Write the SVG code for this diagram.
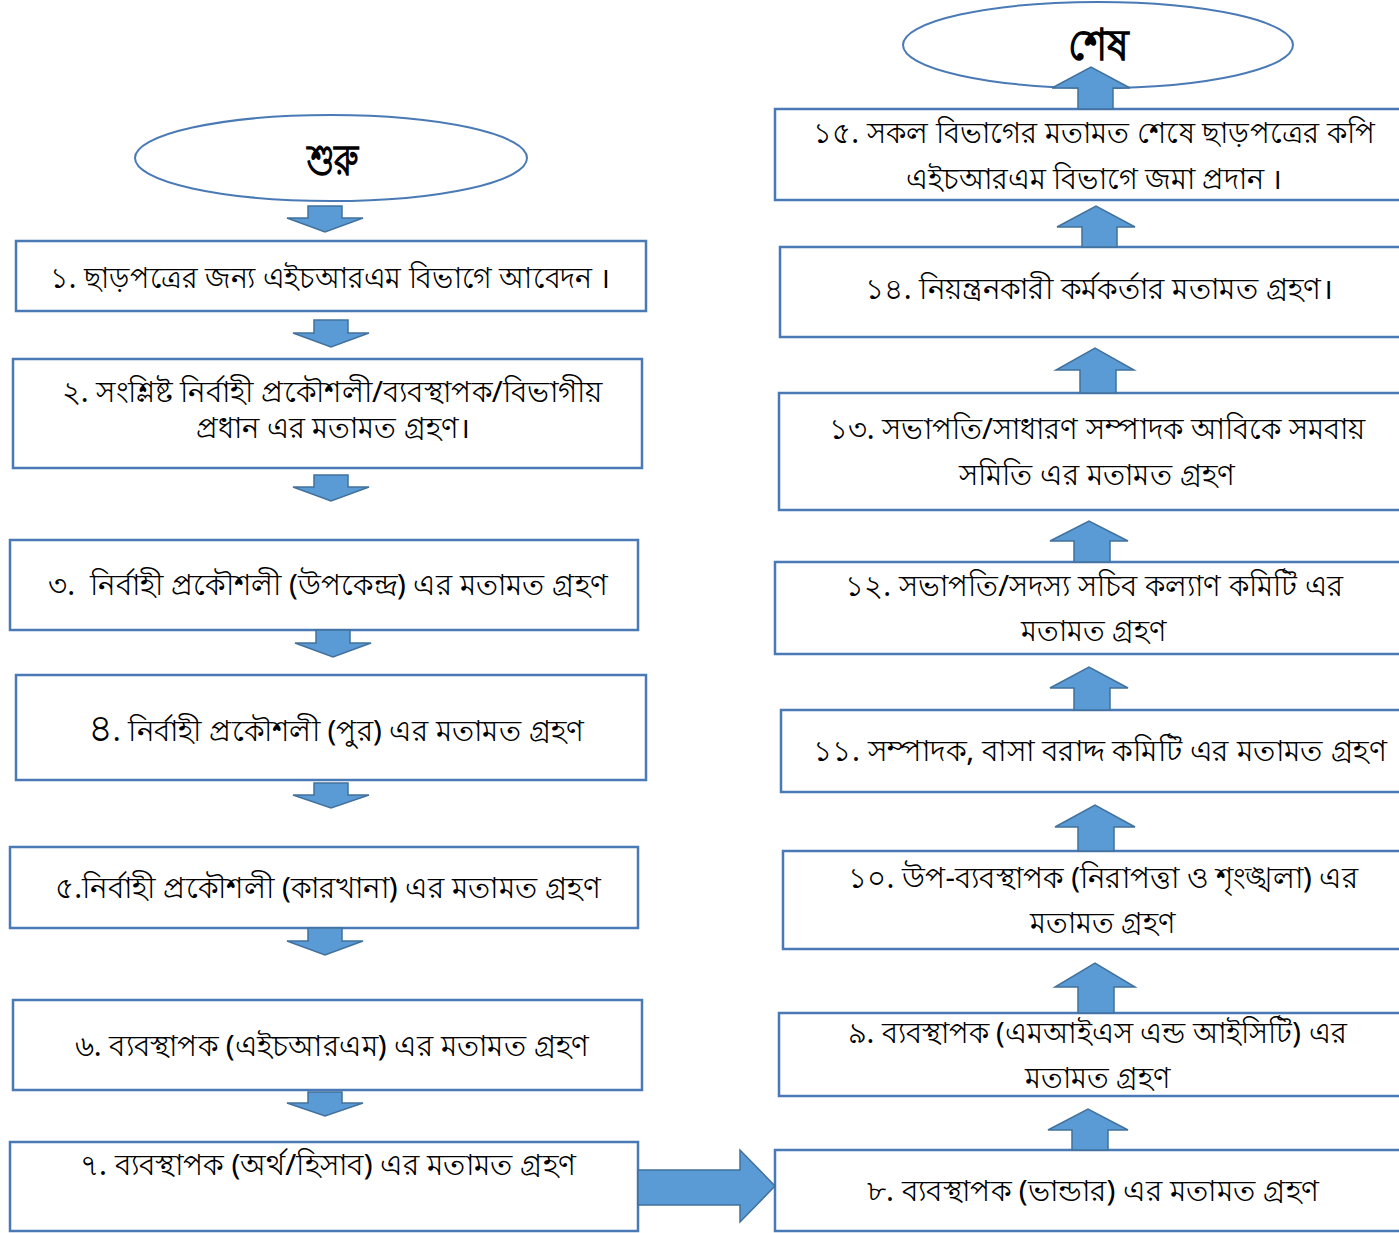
<svg xmlns="http://www.w3.org/2000/svg" width="1399" height="1233" viewBox="0 0 1399 1233">
<style>
.box{fill:#fff;stroke:#4a7ab5;stroke-width:2.5}
.ell{fill:#fff;stroke:#4a7ab5;stroke-width:2}
.arr{fill:#5b9bd5;stroke:#41719c;stroke-width:1.5}
text{font-family:"Noto Sans","DejaVu Sans",sans-serif;font-size:29px;fill:#000;text-anchor:middle}
.big{font-size:44px;font-weight:600}
</style>
<rect width="1399" height="1233" fill="#fff"/>
<g id="start"><ellipse class="ell" cx="331" cy="158" rx="196" ry="43"/><text class="big" x="333" y="175" textLength="52" lengthAdjust="spacingAndGlyphs">শুরু</text></g>
<g id="end"><ellipse class="ell" cx="1098" cy="45" rx="195" ry="43"/><text class="big" x="1098" y="60" textLength="61" lengthAdjust="spacingAndGlyphs">শেষ</text></g>
<g id="n1"><rect class="box" x="16" y="241" width="630" height="70"/><text x="330" y="288" textLength="560" lengthAdjust="spacingAndGlyphs">১. ছাড়পত্রের জন্য এইচআরএম বিভাগে আবেদন ।</text></g>
<g id="n2"><rect class="box" x="13" y="359" width="629" height="109"/><text x="332" y="402" textLength="541" lengthAdjust="spacingAndGlyphs">২. সংশ্লিষ্ট নির্বাহী প্রকৌশলী/ব্যবস্থাপক/বিভাগীয়</text><text x="333" y="438" textLength="274" lengthAdjust="spacingAndGlyphs">প্রধান এর মতামত গ্রহণ।</text></g>
<g id="n3"><rect class="box" x="10" y="540" width="628" height="90"/><text x="328" y="595" textLength="560" lengthAdjust="spacingAndGlyphs">৩.&#160; নির্বাহী প্রকৌশলী (উপকেন্দ্র) এর মতামত গ্রহণ</text></g>
<g id="n4"><rect class="box" x="16" y="675" width="630" height="105"/><text x="336" y="741" textLength="497" lengthAdjust="spacingAndGlyphs"><tspan font-size="38">৪</tspan>. নির্বাহী প্রকৌশলী (পুর) এর মতামত গ্রহণ</text></g>
<g id="n5"><rect class="box" x="10" y="847" width="628" height="81"/><text x="328" y="898" textLength="546" lengthAdjust="spacingAndGlyphs">৫.নির্বাহী প্রকৌশলী (কারখানা) এর মতামত গ্রহণ</text></g>
<g id="n6"><rect class="box" x="13" y="1000" width="629" height="90"/><text x="332" y="1056" textLength="515" lengthAdjust="spacingAndGlyphs">৬. ব্যবস্থাপক (এইচআরএম) এর মতামত গ্রহণ</text></g>
<g id="n7"><rect class="box" x="10" y="1142" width="628" height="89"/><text x="328" y="1175" textLength="497" lengthAdjust="spacingAndGlyphs">৭. ব্যবস্থাপক (অর্থ/হিসাব) এর মতামত গ্রহণ</text></g>
<g id="n8"><rect class="box" x="775" y="1150" width="630" height="81"/><text x="1093" y="1201" textLength="453" lengthAdjust="spacingAndGlyphs">৮. ব্যবস্থাপক (ভান্ডার) এর মতামত গ্রহণ</text></g>
<g id="n9"><rect class="box" x="779" y="1013" width="630" height="83"/><text x="1097" y="1043" textLength="499" lengthAdjust="spacingAndGlyphs">৯. ব্যবস্থাপক (এমআইএস এন্ড আইসিটি) এর</text><text x="1098" y="1088" textLength="146" lengthAdjust="spacingAndGlyphs">মতামত গ্রহণ</text></g>
<g id="n10"><rect class="box" x="783" y="851" width="630" height="98"/><text x="1103" y="888" textLength="510" lengthAdjust="spacingAndGlyphs">১০. উপ-ব্যবস্থাপক (নিরাপত্তা ও শৃংঙ্খলা) এর</text><text x="1103" y="933" textLength="146" lengthAdjust="spacingAndGlyphs">মতামত গ্রহণ</text></g>
<g id="n11"><rect class="box" x="781" y="710" width="630" height="82"/><text x="1100" y="761" textLength="574" lengthAdjust="spacingAndGlyphs">১১. সম্পাদক, বাসা বরাদ্দ কমিটি এর মতামত গ্রহণ</text></g>
<g id="n12"><rect class="box" x="775" y="562" width="630" height="92"/><text x="1094" y="596" textLength="498" lengthAdjust="spacingAndGlyphs">১২. সভাপতি/সদস্য সচিব কল্যাণ কমিটি এর</text><text x="1094" y="641" textLength="146" lengthAdjust="spacingAndGlyphs">মতামত গ্রহণ</text></g>
<g id="n13"><rect class="box" x="779" y="393" width="630" height="117"/><text x="1097" y="439" textLength="537" lengthAdjust="spacingAndGlyphs">১৩. সভাপতি/সাধারণ সম্পাদক আবিকে সমবায়</text><text x="1097" y="485" textLength="277" lengthAdjust="spacingAndGlyphs">সমিতি এর মতামত গ্রহণ</text></g>
<g id="n14"><rect class="box" x="780" y="247" width="630" height="90"/><text x="1099" y="299" textLength="468" lengthAdjust="spacingAndGlyphs">১৪. নিয়ন্ত্রনকারী কর্মকর্তার মতামত গ্রহণ।</text></g>
<g id="n15"><rect class="box" x="775" y="109" width="630" height="91"/><text x="1094" y="143" textLength="562" lengthAdjust="spacingAndGlyphs">১৫. সকল বিভাগের মতামত শেষে ছাড়পত্রের কপি</text><text x="1094" y="189" textLength="376" lengthAdjust="spacingAndGlyphs">এইচআরএম বিভাগে জমা প্রদান ।</text></g>
<g id="connectors">
<path class="arr" d="M308,206 H342 V218 H363 L325,232 L287,218 H308 Z"/>
<path class="arr" d="M314,320 H348 V333 H369 L331,347 L293,333 H314 Z"/>
<path class="arr" d="M314,475 H348 V487 H369 L331,501 L293,487 H314 Z"/>
<path class="arr" d="M316,630 H350 V643 H371 L333,657 L295,643 H316 Z"/>
<path class="arr" d="M314,783 H348 V795 H369 L331,808 L293,795 H314 Z"/>
<path class="arr" d="M308,928 H342 V941 H363 L325,955 L287,941 H308 Z"/>
<path class="arr" d="M308,1092 H342 V1103 H363 L325,1116 L287,1103 H308 Z"/>
<path class="arr" d="M638,1170 H740 V1150 L775,1186 L740,1222 V1205 H638 Z"/>
<path class="arr" d="M1078,109 V88 H1052 L1091,67 L1130,88 H1113 V109 Z"/>
<path class="arr" d="M1082,247 V227 H1057 L1096,206 L1135,227 H1117 V247 Z"/>
<path class="arr" d="M1080,393 V370 H1056 L1095,348 L1134,370 H1116 V393 Z"/>
<path class="arr" d="M1074,562 V541 H1050 L1089,521 L1128,541 H1110 V562 Z"/>
<path class="arr" d="M1074,710 V688 H1050 L1089,667 L1128,688 H1110 V710 Z"/>
<path class="arr" d="M1078,851 V827 H1055 L1095,805 L1135,827 H1114 V851 Z"/>
<path class="arr" d="M1078,1013 V987 H1055 L1095,963 L1135,987 H1114 V1013 Z"/>
<path class="arr" d="M1072,1150 V1130 H1048 L1088,1109 L1128,1130 H1108 V1150 Z"/>
</g>
</svg>
